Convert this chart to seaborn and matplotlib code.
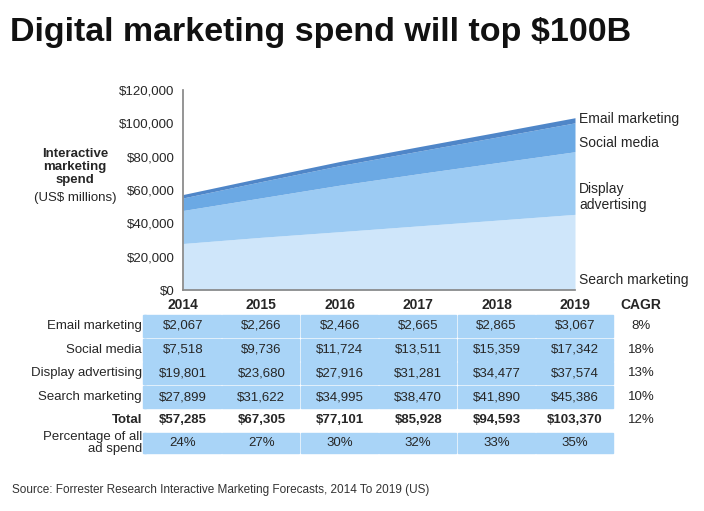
import matplotlib
matplotlib.use("Agg")
import matplotlib.pyplot as plt
import seaborn as sns
import numpy as np
from matplotlib.patches import Rectangle

years = [2014, 2015, 2016, 2017, 2018, 2019]
email = [2067, 2266, 2466, 2665, 2865, 3067]
social = [7518, 9736, 11724, 13511, 15359, 17342]
display = [19801, 23680, 27916, 31281, 34477, 37574]
search = [27899, 31622, 34995, 38470, 41890, 45386]
totals = ["$57,285", "$67,305", "$77,101", "$85,928", "$94,593", "$103,370"]
pct = ["24%", "27%", "30%", "32%", "33%", "35%"]
cagr = ["8%", "18%", "13%", "10%", "12%"]
row_names = ["Email marketing", "Social media", "Display advertising", "Search marketing"]
yticks = [0, 20000, 40000, 60000, 80000, 100000, 120000]

sns.set_theme(style="white")
plt.rcParams['font.family'] = ['Liberation Sans', 'DejaVu Sans']

W, H = 704, 511
fig = plt.figure(figsize=(W/100, H/100), dpi=100)
def fx(x): return x / W
def fy(y): return 1 - y / H

ax = fig.add_axes([fx(183), fy(290), fx(575-183), (290-90)/H])
cols = ["#cfe6fa", "#9ccbf3", "#6ba9e4", "#4f86c8"]
ax.stackplot(years, search, display, social, email, colors=cols, linewidth=0)
ax.set_xlim(2014, 2019)
ax.set_ylim(0, 120000)
ax.set_yticks(yticks)
ax.set_yticklabels([f"${v:,}" for v in yticks], fontsize=9.5)
ax.set_xticks([])
for s in ["top", "right"]:
    ax.spines[s].set_visible(False)
ax.spines["left"].set_color("#888888")
ax.spines["bottom"].set_color("#888888")
ax.tick_params(axis="y", length=0, pad=6)

fig.text(fx(10), fy(32), "Digital marketing spend will top $100B", fontsize=24.5, fontweight="bold", va="center", color="#111111")
fig.text(fx(75), fy(167), "Interactive\nmarketing\nspend", fontsize=9.5, fontweight="bold", ha="center", va="center", linespacing=1.1)
fig.text(fx(75), fy(198), "(US$ millions)", fontsize=9.5, ha="center", va="center")

for txt, y in [("Email marketing", 119), ("Social media", 143), ("Display\nadvertising", 197), ("Search marketing", 280)]:
    fig.text(fx(579), fy(y), txt, fontsize=10, va="center", linespacing=1.2)

xc = [183 + i*78.4 for i in range(6)]
for x, yv in zip(xc, years):
    fig.text(fx(x), fy(305), str(yv), fontsize=10, fontweight="bold", ha="center", va="center")
fig.text(fx(641), fy(305), "CAGR", fontsize=10, fontweight="bold", ha="center", va="center")

rows_y = [326, 350, 373, 397]
data = [email, social, display, search]
cellc = "#a9d4f7"
for r, (name, y, vals) in enumerate(zip(row_names, rows_y, data)):
    for i, v in enumerate(vals):
        fig.patches.append(Rectangle((fx(xc[i]-39), fy(y+11)), 77/W, 22/H, transform=fig.transFigure, color=cellc))
        fig.text(fx(xc[i]), fy(y), f"${v:,}", fontsize=9.5, ha="center", va="center")
    fig.patches.append(Rectangle((fx(146), fy(y+11)), (xc[0]-39-147)/W, 22/H, transform=fig.transFigure, color=cellc))
    fig.text(fx(142), fy(y), name, fontsize=9.5, ha="right", va="center")
    fig.text(fx(641), fy(y), cagr[r], fontsize=9.5, ha="center", va="center")

fig.text(fx(142), fy(420), "Total", fontsize=9.5, fontweight="bold", ha="right", va="center")
for i, t in enumerate(totals):
    fig.text(fx(xc[i]), fy(420), t, fontsize=9.5, fontweight="bold", ha="center", va="center")
fig.text(fx(641), fy(420), cagr[4], fontsize=9.5, ha="center", va="center")

fig.text(fx(142), fy(443), "Percentage of all\nad spend", fontsize=9.5, ha="right", va="center", linespacing=1.1)
for i, t in enumerate(pct):
    fig.patches.append(Rectangle((fx(xc[i]-39), fy(443+10)), 77/W, 20/H, transform=fig.transFigure, color=cellc))
    fig.text(fx(xc[i]), fy(443), t, fontsize=9.5, ha="center", va="center")
fig.patches.append(Rectangle((fx(146), fy(453)), (xc[0]-39-147)/W, 20/H, transform=fig.transFigure, color=cellc))

fig.text(fx(12), fy(490), "Source: Forrester Research Interactive Marketing Forecasts, 2014 To 2019 (US)", fontsize=8.5, va="center", color="#333333")

fig.savefig("out.png", dpi=100)
